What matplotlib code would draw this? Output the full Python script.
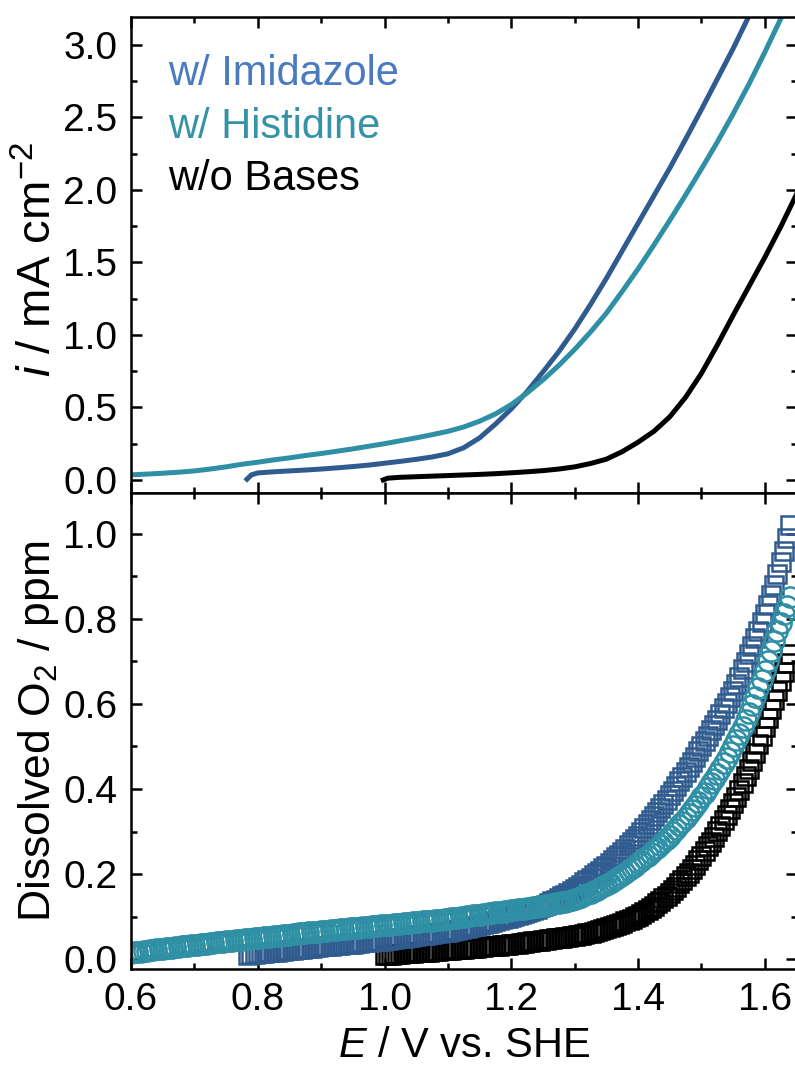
import matplotlib
matplotlib.use("Agg")
import matplotlib.pyplot as plt
import numpy as np
from matplotlib.ticker import MultipleLocator

plt.rcParams["font.family"] = ["Liberation Sans", "DejaVu Sans"]
plt.rcParams["mathtext.fontset"] = "custom"
plt.rcParams["mathtext.rm"] = "Liberation Sans"
plt.rcParams["mathtext.it"] = "Liberation Sans:italic"

blue = "#305b8f"
teal = "#2e8fa5"
black = "#000000"

# current density (mA cm-2) vs potential, LSV traces
E_his_i = [0.600, 0.625, 0.650, 0.675, 0.700, 0.725, 0.750, 0.775, 0.800, 0.825,
           0.850, 0.875, 0.900, 0.925, 0.950, 0.975, 1.000, 1.025, 1.050, 1.075,
           1.100, 1.125, 1.150, 1.175, 1.200, 1.225, 1.250, 1.275, 1.300, 1.325,
           1.350, 1.375, 1.400, 1.425, 1.450, 1.475, 1.500, 1.525, 1.550, 1.575,
           1.600, 1.625]
i_his = [0.035, 0.040, 0.046, 0.053, 0.062, 0.075, 0.090, 0.108, 0.122, 0.138,
         0.152, 0.168, 0.182, 0.198, 0.214, 0.232, 0.250, 0.270, 0.290, 0.312,
         0.335, 0.365, 0.405, 0.455, 0.520, 0.600, 0.690, 0.790, 0.900, 1.020,
         1.150, 1.300, 1.455, 1.620, 1.790, 1.965, 2.145, 2.330, 2.525, 2.730,
         2.950, 3.180]

E_imi_i = [0.783, 0.790, 0.800, 0.825, 0.850, 0.875, 0.900, 0.925, 0.950, 0.975,
           1.000, 1.025, 1.050, 1.075, 1.100, 1.125, 1.150, 1.175, 1.200, 1.225,
           1.250, 1.275, 1.300, 1.325, 1.350, 1.375, 1.400, 1.425, 1.450, 1.475,
           1.500, 1.525, 1.550, 1.575]
i_imi = [0.005, 0.035, 0.048, 0.056, 0.062, 0.068, 0.075, 0.083, 0.092, 0.102,
         0.115, 0.128, 0.142, 0.158, 0.180, 0.222, 0.290, 0.385, 0.490, 0.610,
         0.745, 0.885, 1.040, 1.210, 1.390, 1.580, 1.770, 1.960, 2.150, 2.350,
         2.555, 2.765, 2.975, 3.200]

E_none_i = [0.998, 1.005, 1.025, 1.050, 1.075, 1.100, 1.125, 1.150, 1.175, 1.200,
            1.225, 1.250, 1.275, 1.300, 1.325, 1.350, 1.375, 1.400, 1.425, 1.450,
            1.475, 1.500, 1.525, 1.550, 1.575, 1.600, 1.625, 1.650]
i_none = [0.000, 0.012, 0.018, 0.022, 0.026, 0.030, 0.034, 0.038, 0.043, 0.049,
          0.056, 0.064, 0.075, 0.090, 0.113, 0.143, 0.195, 0.260, 0.335, 0.435,
          0.570, 0.735, 0.930, 1.135, 1.335, 1.535, 1.745, 1.970]

# dissolved O2 (ppm), one reading every 5 mV; rows hold 50 mV each
o2_his = [0.015, 0.016, 0.017, 0.018, 0.019, 0.020, 0.021, 0.022, 0.023, 0.024,
          0.025, 0.026, 0.027, 0.0275, 0.028, 0.029, 0.030, 0.031, 0.032, 0.0325,
          0.033, 0.034, 0.035, 0.036, 0.037, 0.038, 0.039, 0.0395, 0.040, 0.041,
          0.042, 0.043, 0.044, 0.0445, 0.045, 0.046, 0.047, 0.0475, 0.048, 0.049,
          0.050, 0.051, 0.052, 0.0525, 0.053, 0.054, 0.055, 0.0555, 0.056, 0.057,
          0.058, 0.059, 0.060, 0.0605, 0.061, 0.062, 0.063, 0.0635, 0.064, 0.065,
          0.066, 0.0665, 0.067, 0.068, 0.069, 0.0695, 0.070, 0.071, 0.072, 0.0725,
          0.073, 0.0735, 0.074, 0.075, 0.076, 0.0765, 0.077, 0.078, 0.079, 0.0795,
          0.080, 0.0805, 0.081, 0.082, 0.083, 0.0835, 0.084, 0.085, 0.086, 0.0865,
          0.087, 0.088, 0.089, 0.0895, 0.090, 0.091, 0.092, 0.0925, 0.093, 0.094,
          0.095, 0.096, 0.097, 0.098, 0.099, 0.100, 0.101, 0.102, 0.103, 0.104,
          0.105, 0.106, 0.107, 0.108, 0.109, 0.110, 0.111, 0.112, 0.113, 0.114,
          0.115, 0.116, 0.117, 0.118, 0.119, 0.120, 0.121, 0.122, 0.123, 0.124,
          0.125, 0.1265, 0.128, 0.1295, 0.131, 0.1325, 0.134, 0.1355, 0.137, 0.139,
          0.141, 0.144, 0.147, 0.150, 0.153, 0.1565, 0.160, 0.1635, 0.167, 0.171,
          0.175, 0.1795, 0.184, 0.1885, 0.193, 0.198, 0.203, 0.2085, 0.214, 0.2195,
          0.225, 0.231, 0.237, 0.243, 0.249, 0.2555, 0.262, 0.269, 0.276, 0.283,
          0.290, 0.298, 0.306, 0.3145, 0.323, 0.332, 0.341, 0.3505, 0.360, 0.370,
          0.380, 0.391, 0.402, 0.413, 0.424, 0.436, 0.448, 0.4605, 0.473, 0.4865,
          0.500, 0.515, 0.530, 0.546, 0.562, 0.5795, 0.597, 0.6165, 0.636, 0.657,
          0.678, 0.7015, 0.725, 0.7475, 0.770, 0.790, 0.810, 0.830, 0.850]

o2_imi = [0.011, 0.012, 0.013,
          0.014, 0.0145, 0.015, 0.016, 0.017, 0.0175, 0.018, 0.019, 0.020, 0.021,
          0.022, 0.0225, 0.023, 0.024, 0.025, 0.0255, 0.026, 0.027, 0.028, 0.029,
          0.030, 0.0305, 0.031, 0.032, 0.033, 0.0335, 0.034, 0.035, 0.036, 0.0365,
          0.037, 0.038, 0.039, 0.0395, 0.040, 0.041, 0.042, 0.0425, 0.043, 0.044,
          0.045, 0.046, 0.047, 0.048, 0.049, 0.050, 0.051, 0.052, 0.053, 0.054,
          0.055, 0.056, 0.057, 0.058, 0.059, 0.060, 0.061, 0.062, 0.063, 0.064,
          0.065, 0.0665, 0.068, 0.0695, 0.071, 0.0725, 0.074, 0.0755, 0.077, 0.0785,
          0.080, 0.082, 0.084, 0.086, 0.088, 0.090, 0.092, 0.094, 0.096, 0.098,
          0.100, 0.102, 0.104, 0.1065, 0.109, 0.1115, 0.114, 0.1165, 0.119, 0.122,
          0.125, 0.1285, 0.132, 0.136, 0.140, 0.144, 0.148, 0.152, 0.156, 0.1605,
          0.165, 0.170, 0.175, 0.1805, 0.186, 0.1915, 0.197, 0.2025, 0.208, 0.214,
          0.220, 0.2265, 0.233, 0.2395, 0.246, 0.253, 0.260, 0.2675, 0.275, 0.2825,
          0.290, 0.299, 0.308, 0.317, 0.326, 0.3355, 0.345, 0.355, 0.365, 0.375,
          0.385, 0.396, 0.407, 0.418, 0.429, 0.4405, 0.452, 0.464, 0.476, 0.488,
          0.500, 0.5125, 0.525, 0.5375, 0.550, 0.563, 0.576, 0.5895, 0.603, 0.6165,
          0.630, 0.647, 0.664, 0.6815, 0.699, 0.717, 0.735, 0.7535, 0.772, 0.791,
          0.810, 0.8325, 0.855, 0.880, 0.905, 0.9325, 0.960, 0.990, 1.020]

o2_none = [0.010, 0.0105, 0.011, 0.0115, 0.012, 0.013, 0.014, 0.0145, 0.015, 0.0155,
           0.016, 0.0165, 0.017, 0.0175, 0.018, 0.0185, 0.019, 0.020, 0.021, 0.0215,
           0.022, 0.0225, 0.023, 0.0235, 0.024, 0.025, 0.026, 0.0265, 0.027, 0.0275,
           0.028, 0.029, 0.030, 0.0305, 0.031, 0.0315, 0.032, 0.033, 0.034, 0.0345,
           0.035, 0.036, 0.037, 0.038, 0.039, 0.040, 0.041, 0.042, 0.043, 0.044,
           0.045, 0.046, 0.047, 0.048, 0.049, 0.050, 0.051, 0.052, 0.053, 0.054,
           0.055, 0.056, 0.0575, 0.059, 0.0605, 0.062, 0.064, 0.066, 0.068, 0.070,
           0.0725, 0.075, 0.0775, 0.080, 0.083, 0.086, 0.089, 0.092, 0.0955, 0.099,
           0.1025, 0.106, 0.110, 0.115, 0.120, 0.125, 0.131, 0.137, 0.143, 0.1495,
           0.156, 0.163, 0.170, 0.178, 0.186, 0.1945, 0.203, 0.2125, 0.222, 0.2325,
           0.243, 0.254, 0.265, 0.2765, 0.288, 0.3005, 0.313, 0.326, 0.339, 0.353,
           0.367, 0.382, 0.397, 0.4135, 0.430, 0.448, 0.466, 0.4855, 0.505, 0.5255,
           0.546, 0.567, 0.588, 0.6095, 0.631, 0.653, 0.675, 0.6965, 0.718]

# sweep starts for the O2 readings, 5 mV apart
E_his_start = 0.600
E_imi_start = 0.785
E_none_start = 1.000
step = 0.005

E_his_o2 = E_his_start + step * np.arange(len(o2_his))
E_imi_o2 = E_imi_start + step * np.arange(len(o2_imi))
E_none_o2 = E_none_start + step * np.arange(len(o2_none))

labels = ["w/ Imidazole", "w/ Histidine", "w/o Bases"]
label_colors = ["#4b7bbf", "#3593a8", black]

fig = plt.figure(figsize=(7.95, 10.67), dpi=100)
ax1 = fig.add_axes([0.1648, 0.5380, 0.8371, 0.4461])
ax2 = fig.add_axes([0.1648, 0.0918, 0.8371, 0.4461], sharex=ax1)

ax1.plot(E_none_i, i_none, color=black, lw=3.6)
ax1.plot(E_imi_i, i_imi, color=blue, lw=3.6)
ax1.plot(E_his_i, i_his, color=teal, lw=3.6)

ax2.plot(E_none_o2, o2_none, ls="none", marker="s", ms=13, mfc="none",
         mec=black, mew=1.8)
ax2.plot(E_imi_o2, o2_imi, ls="none", marker="s", ms=13, mfc="none",
         mec=blue, mew=1.8)
ax2.plot(E_his_o2, o2_his, ls="none", marker="o", ms=14.5, mfc="none",
         mec=teal, mew=1.8)

for k, (text, col) in enumerate(zip(labels, label_colors)):
    ax1.text(0.056, 0.857 - k * 0.1105, text, color=col, fontsize=30,
             transform=ax1.transAxes, va="baseline", ha="left")

ax1.set_xlim(0.6, 1.65)
ax1.set_ylim(-0.09, 3.193)
ax2.set_ylim(-0.023, 1.095)

ax1.yaxis.set_major_locator(MultipleLocator(0.5))
ax1.yaxis.set_minor_locator(MultipleLocator(0.25))
ax2.yaxis.set_major_locator(MultipleLocator(0.2))
ax2.yaxis.set_minor_locator(MultipleLocator(0.1))
ax2.xaxis.set_major_locator(MultipleLocator(0.2))
ax2.xaxis.set_minor_locator(MultipleLocator(0.1))

for ax in (ax1, ax2):
    for side in ax.spines.values():
        side.set_linewidth(1.8)
    ax.tick_params(which="both", direction="in", top=True, right=True,
                   width=1.8, labelsize=28)
    ax.tick_params(which="major", length=8)
    ax.tick_params(which="minor", length=4)
    ax.tick_params(axis="y", pad=10)
    ax.tick_params(axis="x", pad=9)

ax1.tick_params(axis="x", labelbottom=False)

ax1.set_ylabel(r"$i$ / mA cm$^{-2}$", fontsize=34)
ax2.set_ylabel(r"Dissolved O$_2$ / ppm", fontsize=32)
ax2.set_xlabel(r"$E$ / V vs. SHE", fontsize=30)
ax1.yaxis.set_label_coords(-0.105, 0.49)
ax2.yaxis.set_label_coords(-0.105, 0.5)
ax2.xaxis.set_label_coords(0.5, -0.12)

fig.savefig("out.png", dpi=100)
